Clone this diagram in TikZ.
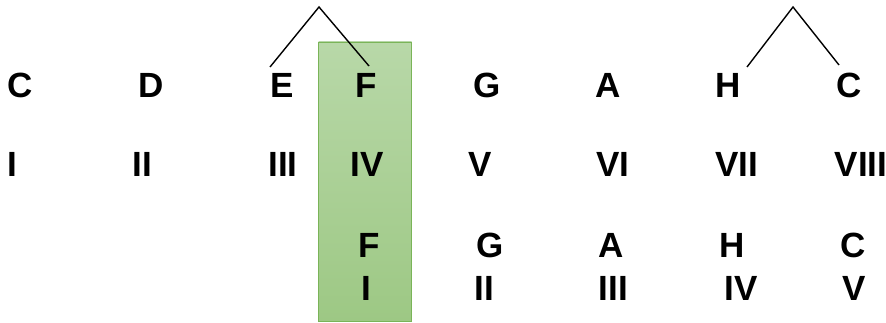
\documentclass[tikz,border=0pt]{standalone}
\usepackage{fontspec}
\setmainfont{Liberation Sans}
\begin{document}
\begin{tikzpicture}[x=1pt,y=-1pt,
  lbl/.style={anchor=base,inner sep=0pt,font=\fontsize{35}{35}\selectfont\bfseries},
  conn/.style={draw=black,line width=1.4pt},
  hilite/.style={draw={rgb,255:red,122;green,180;blue,88},line width=0.8pt,
    top color={rgb,255:red,184;green,216;blue,168},
    bottom color={rgb,255:red,157;green,200;blue,132}}]
\useasboundingbox (0,0) rectangle (886,323);
% highlight box
\path[hilite] (318.5,42) rectangle (411.5,321.5);
% row 1
\node[lbl] (c1) at (20,97.5) {C};
\node[lbl] (d1) at (151,97.5) {D};
\node[lbl] (e1) at (282,97.5) {E};
\node[lbl] (f1) at (366,97.5) {F};
\node[lbl] (g1) at (487,97.5) {G};
\node[lbl] (a1) at (608,97.5) {A};
\node[lbl] (h1) at (728,97.5) {H};
\node[lbl] (c2) at (849,97.5) {C};
% row 2
\node[lbl] (r1) at (12.5,177) {I};
\node[lbl] (r2) at (142.5,177) {II};
\node[lbl] (r3) at (283,177) {III};
\node[lbl] (r4) at (367,177) {IV};
\node[lbl] (r5) at (480,177) {V};
\node[lbl] (r6) at (613,177) {VI};
\node[lbl] (r7) at (736.5,177) {VII};
\node[lbl] (r8) at (861,177) {VIII};
% row 3
\node[lbl] (f3) at (369,258) {F};
\node[lbl] (g3) at (490,258) {G};
\node[lbl] (a3) at (611.5,258) {A};
\node[lbl] (h3) at (732.5,258) {H};
\node[lbl] (c3) at (853,258) {C};
% row 4
\node[lbl] (s1) at (366,300.5) {I};
\node[lbl] (s2) at (484,300.5) {II};
\node[lbl] (s3) at (613.5,300.5) {III};
\node[lbl] (s4) at (741,300.5) {IV};
\node[lbl] (s5) at (854,300.5) {V};
% connectors
\coordinate (apexEF) at (319,7);
\coordinate (endE) at (270,67);
\coordinate (endF) at (369,66);
\coordinate (apexHC) at (793,7);
\coordinate (endH) at (747,67);
\coordinate (endC) at (839,65);
\draw[conn] (endE) -- (apexEF) -- (endF);
\draw[conn] (endH) -- (apexHC) -- (endC);
\end{tikzpicture}
\end{document}
